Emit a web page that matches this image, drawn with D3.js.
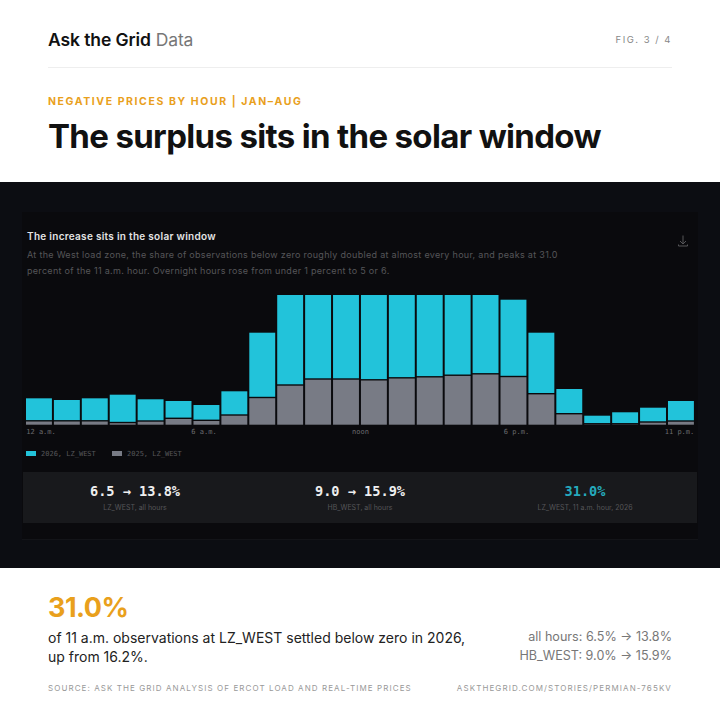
<!DOCTYPE html>
<html><head><meta charset="utf-8">
<script src="https://cdn.jsdelivr.net/npm/d3@7"></script>
<style>html,body{margin:0;padding:0;background:#fff}svg{display:block}text{font-family:Inter,sans-serif}.mono{font-family:"DejaVu Sans Mono",monospace}</style>
</head><body><div id="c"></div>
<script>
const hours = d3.range(24);
const values2025 = [1.67,1.67,1.67,1.05,1.6,2.58,1.85,3.78,10.15,14.69,16.87,16.87,16.58,17.3,17.67,18.25,18.76,17.78,11.53,4.25,0.6,0.6,1.24,1.6];
const values2026 = [8.43,7.82,8.43,10.37,8.15,6.55,5.82,8.87,23.81,32.98,30.8,30.8,31.09,30.37,30.0,29.42,28.91,28.18,22.43,9.24,3.18,4.42,5.45,7.53];
const tickLabels = ["12 a.m.","6 a.m.","noon","6 p.m.","11 p.m."];
const legendLabels = ["2026, LZ_WEST","2025, LZ_WEST"];
const statValues = ["6.5 → 13.8%","9.0 → 15.9%","31.0%"];
const statLabels = ["LZ_WEST, all hours","HB_WEST, all hours","LZ_WEST, 11 a.m. hour, 2026"];
const subLines = ["At the West load zone, the share of observations below zero roughly doubled at almost every hour, and peaks at 31.0","percent of the 11 a.m. hour. Overnight hours rose from under 1 percent to 5 or 6."];

const svg = d3.select("#c").append("svg").attr("width",720).attr("height",720);
const T=(x,y,s,size,fill,o={})=>{const t=svg.append("text").attr("x",x).attr("y",y).attr("font-size",size).attr("fill",fill).text(s);
 if(o.w)t.attr("font-weight",o.w);if(o.a)t.attr("text-anchor",o.a);if(o.ls)t.attr("letter-spacing",o.ls);if(o.mono)t.attr("class","mono");return t;};

svg.append("rect").attr("width",720).attr("height",720).attr("fill","#fff");
// header
const h=T(48,45.5,"Ask the Grid",17.5,"#111",{w:600,ls:-0.1});
h.append("tspan").text(" Data").attr("font-weight",400).attr("fill","#777");
T(672,43,"FIG. 3 / 4",9.5,"#888",{a:"end",ls:1.5,w:400});
svg.append("rect").attr("x",48).attr("y",67).attr("width",624).attr("height",1).attr("fill","#eee");
T(48,105,"NEGATIVE PRICES BY HOUR | JAN–AUG",10.5,"#e9a01c",{w:700,ls:1.58});
T(48,148,"The surplus sits in the solar window",33,"#111",{w:700,ls:-0.66});

// dark band
svg.append("rect").attr("y",182).attr("width",720).attr("height",386).attr("fill","#0c0d12");
svg.append("rect").attr("x",22).attr("y",212).attr("width",676).attr("height",328).attr("fill","#0a0a0d");
svg.append("rect").attr("x",22).attr("y",539).attr("width",676).attr("height",1).attr("fill","#131418");
T(27,240,"The increase sits in the solar window",10,"#e4e4e4",{w:600,ls:0.29});
subLines.forEach((s,i)=>T(27,258+i*16,s,9,"#565659",{ls:0.3}));
// download icon
const ic=svg.append("g").attr("fill","none").attr("stroke","#565659").attr("stroke-width",1);
ic.append("path").attr("d","M683 235.5v8M680 241l3 3 3-3M678.5 244.5v1.5h9v-1.5");

// chart
const x=d3.scaleBand().domain(hours).range([25,694.9]).paddingInner(0).paddingOuter(0);
const y=d3.scaleLinear().domain([0,47.67]).range([425.4,294.3]);
const stack=d3.stack().keys(["y25","y26"])(hours.map(i=>({h:i,y25:values2025[i],y26:values2026[i]})));
const colors=["#787b85","#22c3da"];
svg.append("g").selectAll("g").data(stack).join("g").attr("fill",(d,i)=>colors[i])
 .selectAll("rect").data(d=>d).join("rect")
 .attr("x",d=>x(d.data.h)+1).attr("width",x.bandwidth()-2)
 .attr("y",d=>y(d[1])+0.7).attr("height",d=>Math.max(0,y(d[0])-y(d[1])-1.4));
// axis
const xt=d3.scaleOrdinal().domain(tickLabels).range([40.5,203.5,360,516,679]);
const ax=svg.append("g").attr("transform","translate(0,429)").call(d3.axisBottom(xt).tickSize(0).tickPadding(0));
ax.select(".domain").remove();
ax.selectAll("text").attr("font-size",7).attr("fill","#6a6a6d").attr("dy","0.71em").style("font-family",'"DejaVu Sans Mono",monospace');
// legend
[[26,0],[112,1]].forEach(([lx,i])=>{
 svg.append("rect").attr("x",lx).attr("y",451).attr("width",10).attr("height",5).attr("fill",colors[1-i]);
 T(lx+15,456,legendLabels[i],7,"#565659",{mono:true});
});
// stats
svg.append("rect").attr("x",23).attr("y",472).attr("width",674).attr("height",51).attr("fill","#18191c");
const sx=d3.scalePoint().domain(statValues).range([135,585]);
statValues.forEach((s,i)=>{
 T(sx(s),496,s,13.6,i==2?"#25a9bd":"#eee",{a:"middle",mono:true,w:700});
 T(sx(s),510,statLabels[i],7,"#565659",{a:"middle"});
});
// footer
T(48,617,"31.0%",27,"#e9a01c",{w:700,ls:-0.5});
T(48,643,"of 11 a.m. observations at LZ_WEST settled below zero in 2026,",14,"#222");
T(48,661.5,"up from 16.2%.",14,"#222");
T(672,641,"all hours: 6.5% → 13.8%",12.6,"#777",{a:"end"});
T(672,660,"HB_WEST: 9.0% → 15.9%",12.6,"#777",{a:"end"});
T(48,691,"SOURCE: ASK THE GRID ANALYSIS OF ERCOT LOAD AND REAL-TIME PRICES",8,"#999",{ls:1.08});
T(672,691,"ASKTHEGRID.COM/STORIES/PERMIAN-765KV",8,"#999",{a:"end",ls:1.1});
</script></body></html>
